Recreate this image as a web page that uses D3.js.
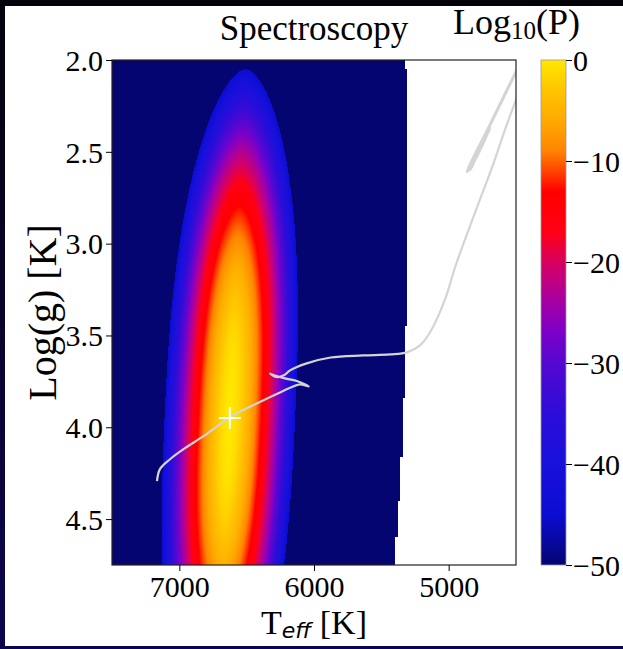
<!DOCTYPE html>
<html lang="en">
	<head>
		<meta charset="UTF-8" />
		<title>Spectroscopy</title>
		<script src="https://d3js.org/d3.v7.min.js"></script>
		<style>
			body { margin: 0; background: #fff; }
			text { font-family: "Liberation Serif", "Times New Roman", serif; fill: #000; }
			.sub { font-family: "DejaVu Sans", sans-serif; font-style: oblique; }
		</style>
	</head>
	<body>
		<svg id="chart"></svg>

		<script>
			// Data
			const TEFF_TICKS = [7000, 6000, 5000];
			const LOGG_TICKS = [2.0, 2.5, 3.0, 3.5, 4.0, 4.5];
			const CBAR_TICKS = [0, -10, -20, -30, -40, -50];

			// colormap
			const CMAP_VALUES = [-50, -45, -40, -35, -30, -27, -24, -20, -17, -13, -11, -9, -6, -3, 0];
			const CMAP_COLORS = ["#050572", "#0c0cd2", "#1810dc", "#2c0cd8", "#5408d0", "#7c00c8", "#a400a4",
				"#d80060", "#ff0014", "#ff0000", "#ff4400", "#ff8400", "#ffaa00", "#ffc400", "#ffe800"];

			// best fit (white cross) and shape of the likelihood surface
			const PEAK_TEFF = 6625;
			const PEAK_LOGG = 3.95;
			const HALF_WIDTH_TEFF = 485;
			const HALF_WIDTH_LOGG = 1.9;
			const SHAPE_TEFF = 1.7;
			const SHAPE_LOGG = 2.5;
			const TILT_TEFF_PER_DEX = 61;
			const EDGE_LEVEL = -45;

			// cool edge of the model grid (steps)
			const GRID_EDGE_LOGG = [2.0, 2.05, 3.45, 3.84, 4.16, 4.40, 4.60, 4.76];
			const GRID_EDGE_TEFF = [5325, 5310, 5325, 5340, 5360, 5375, 5400];

			// evolutionary track
			const TRACK_TEFF = [7166, 7144, 7069, 6958, 6809, 6624, 6438, 6252, 6104, 6040, 6128, 6215, 6297, 6327,
				6282, 6223, 6178, 6054, 5877, 5636, 5436, 5309, 5213, 5139, 5027, 4953, 4879, 4782, 4671, 4582, 4500, 4441];
			const TRACK_LOGG = [4.293, 4.228, 4.174, 4.114, 4.043, 3.946, 3.875, 3.810, 3.766, 3.777, 3.748, 3.734, 3.717, 3.707,
				3.726, 3.717, 3.690, 3.652, 3.620, 3.609, 3.603, 3.592, 3.554, 3.484, 3.304, 3.130, 2.978, 2.788, 2.571, 2.380, 2.217, 2.109];
			const BRANCH_TEFF = [4396, 4500, 4693, 4842, 4864, 4805, 4693, 4842, 4820];
			const BRANCH_LOGG = [1.918, 2.065, 2.353, 2.571, 2.609, 2.543, 2.37, 2.60, 2.57];

			// Define constants
			const WIDTH = 623;
			const HEIGHT = 649;
			const PLOT = { left: 112, right: 516, top: 60, bottom: 565 };
			const CBAR = { left: 541, right: 566 };

			// Scales
			const xScale = d3.scaleLinear().domain([7500, 4500]).range([PLOT.left, PLOT.right]);
			const yScale = d3.scaleLinear().domain([2.0, 4.75]).range([PLOT.top, PLOT.bottom]);
			const cScale = d3.scaleLinear().domain([-50, 0]).range([PLOT.bottom, PLOT.top]);
			const colorScale = d3.scaleLinear().domain(CMAP_VALUES).range(CMAP_COLORS).clamp(true);

			const svg = d3.select("#chart").attr("width", WIDTH).attr("height", HEIGHT);
			svg.append("rect").attr("width", WIDTH).attr("height", HEIGHT).attr("fill", "#fff");

			function logP(teff, logg) {
				const dg = logg - PEAK_LOGG;
				const dt = teff - PEAK_TEFF - TILT_TEFF_PER_DEX * dg;
				const r = Math.abs(dt / HALF_WIDTH_TEFF) ** SHAPE_TEFF + Math.abs(dg / HALF_WIDTH_LOGG) ** SHAPE_LOGG;
				const v = EDGE_LEVEL * r;
				return v < EDGE_LEVEL ? -50 : v;
			}

			function gridEdge(logg) {
				const i = Math.max(0, Math.min(GRID_EDGE_TEFF.length - 1, d3.bisectRight(GRID_EDGE_LOGG, logg) - 1));
				return GRID_EDGE_TEFF[i];
			}

			// Heat map painted on a canvas, then put in the svg
			const w = PLOT.right - PLOT.left;
			const h = PLOT.bottom - PLOT.top;
			const canvas = document.createElement("canvas");
			canvas.width = w;
			canvas.height = h;
			const ctx = canvas.getContext("2d");
			const img = ctx.createImageData(w, h);
			for (let j = 0; j < h; j++) {
				const logg = yScale.invert(PLOT.top + j + 0.5);
				const edge = gridEdge(logg);
				for (let i = 0; i < w; i++) {
					const teff = xScale.invert(PLOT.left + i + 0.5);
					const k = (j * w + i) * 4;
					if (teff < edge) {
						img.data[k + 3] = 0;
						continue;
					}
					const c = d3.rgb(colorScale(logP(teff, logg)));
					img.data[k] = c.r;
					img.data[k + 1] = c.g;
					img.data[k + 2] = c.b;
					img.data[k + 3] = 255;
				}
			}
			ctx.putImageData(img, 0, 0);

			const defs = svg.append("defs");
			defs.append("clipPath").attr("id", "plot-clip")
				.append("rect").attr("x", PLOT.left).attr("y", PLOT.top).attr("width", w).attr("height", h);

			svg.append("image")
				.attr("x", PLOT.left).attr("y", PLOT.top)
				.attr("width", w).attr("height", h)
				.attr("preserveAspectRatio", "none")
				.attr("href", canvas.toDataURL());

			// Track
			const line = d3.line().x((d) => xScale(d[0])).y((d) => yScale(d[1])).curve(d3.curveCatmullRom);
			const tracks = [d3.zip(TRACK_TEFF, TRACK_LOGG), d3.zip(BRANCH_TEFF, BRANCH_LOGG)];
			svg.append("g").attr("clip-path", "url(#plot-clip)")
				.selectAll("path").data(tracks).enter().append("path")
				.attr("d", line)
				.attr("fill", "none")
				.attr("stroke", "#d4d4d4")
				.attr("stroke-width", (d, i) => (i === 0 ? 2.2 : 3))
				.attr("stroke-linejoin", "round");

			// Best fit marker
			const cx = xScale(PEAK_TEFF);
			const cy = yScale(PEAK_LOGG);
			svg.append("path")
				.attr("d", `M${cx - 11},${cy}H${cx + 11}M${cx},${cy - 11}V${cy + 11}`)
				.attr("stroke", "#fff").attr("stroke-width", 2);

			// Frame
			svg.append("rect").attr("x", PLOT.left).attr("y", PLOT.top).attr("width", w).attr("height", h)
				.attr("fill", "none").attr("stroke", "#222").attr("stroke-width", 1.2);

			// Axes
			const fontSize = 30;
			const xAxis = svg.append("g").attr("transform", `translate(0,${PLOT.bottom})`)
				.call(d3.axisBottom(xScale).tickValues(TEFF_TICKS).tickFormat(d3.format("d")).tickSize(6).tickPadding(5));
			const yAxis = svg.append("g").attr("transform", `translate(${PLOT.left},0)`)
				.call(d3.axisLeft(yScale).tickValues(LOGG_TICKS).tickFormat(d3.format(".1f")).tickSize(6).tickPadding(3));
			[xAxis, yAxis].forEach((a) => {
				a.select(".domain").remove();
				a.selectAll("line").attr("stroke", "#000");
				a.selectAll("text").attr("font-size", fontSize).attr("font-family", null);
			});
			yAxis.selectAll("text").attr("dy", "0.34em");

			// Colour bar
			const grad = defs.append("linearGradient").attr("id", "cbar-grad")
				.attr("x1", 0).attr("y1", 1).attr("x2", 0).attr("y2", 0);
			grad.selectAll("stop").data(CMAP_VALUES).enter().append("stop")
				.attr("offset", (d) => (d + 50) / 50)
				.attr("stop-color", (d, i) => CMAP_COLORS[i]);
			svg.append("rect")
				.attr("x", CBAR.left).attr("y", PLOT.top)
				.attr("width", CBAR.right - CBAR.left).attr("height", h)
				.attr("fill", "url(#cbar-grad)").attr("stroke", "#999").attr("stroke-width", 0.8);
			const cAxis = svg.append("g").attr("transform", `translate(${CBAR.right},0)`)
				.call(d3.axisRight(cScale).tickValues(CBAR_TICKS).tickFormat((d) => (d < 0 ? "\u2212" + -d : d)).tickSize(6).tickPadding(1));
			cAxis.select(".domain").remove();
			cAxis.selectAll("line").attr("stroke", "#000");
			cAxis.selectAll("text").attr("font-size", fontSize).attr("font-family", null).attr("dy", "0.34em");

			// Labels
			svg.append("text").attr("x", (PLOT.left + PLOT.right) / 2).attr("y", 40)
				.attr("text-anchor", "middle").attr("font-size", 35).text("Spectroscopy");

			const cLabel = svg.append("text").attr("x", 453).attr("y", 34).attr("font-size", 36);
			cLabel.append("tspan").text("Log");
			cLabel.append("tspan").attr("font-size", 25).attr("dy", 5).text("10");
			cLabel.append("tspan").attr("dy", -5).text("(P)");

			const xLabel = svg.append("text").attr("x", (PLOT.left + PLOT.right) / 2).attr("y", 634)
				.attr("text-anchor", "middle").attr("font-size", 34);
			xLabel.append("tspan").text("T");
			xLabel.append("tspan").attr("class", "sub").attr("font-size", 22).attr("dy", 4).text("eff");
			xLabel.append("tspan").attr("dy", -4).text(" [K]");

			svg.append("text")
				.attr("transform", `translate(56,${(PLOT.top + PLOT.bottom) / 2}) rotate(-90)`)
				.attr("text-anchor", "middle").attr("font-size", 40).text("Log(g) [K]");

			// Screen border around the figure
			const side = defs.append("linearGradient").attr("id", "side-grad")
				.attr("x1", 0).attr("y1", 0).attr("x2", 0).attr("y2", 1);
			side.append("stop").attr("offset", 0).attr("stop-color", "#05030c");
			side.append("stop").attr("offset", 1).attr("stop-color", "#0c0650");
			svg.append("rect").attr("x", 0).attr("y", 0).attr("width", 5).attr("height", HEIGHT).attr("fill", "url(#side-grad)");
			svg.append("rect").attr("x", 0).attr("y", 0).attr("width", WIDTH).attr("height", 6).attr("fill", "#05030a");
			svg.append("rect").attr("x", 0).attr("y", 646).attr("width", WIDTH).attr("height", 3).attr("fill", "#0c0650");
		</script>
	</body>
</html>
